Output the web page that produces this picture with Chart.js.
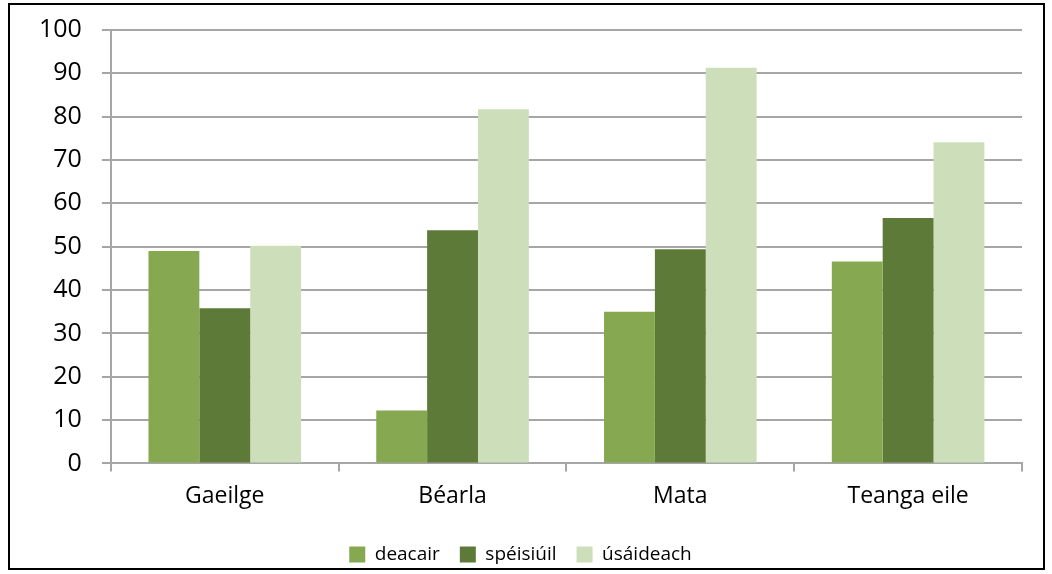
<!DOCTYPE html>
<html>
<head>
<meta charset="utf-8">
<script src="https://cdn.jsdelivr.net/npm/chart.js@4"></script>
<style>
  html, body { margin: 0; padding: 0; background: #fff; }
  #frame {
    position: absolute; left: 8px; top: 3px;
    width: 1037px; height: 567px;
    border: 2px solid #000; box-sizing: border-box;
    overflow: hidden;
  }
  #chart { display: block; margin-top: -10px; }
</style>
</head>
<body>
<div id="frame"><canvas id="chart" width="1033" height="573"></canvas></div>
<script>
// Subjects and survey responses (%)
const subjects = ['Gaeilge', 'Béarla', 'Mata', 'Teanga eile'];
const seriesNames = ['deacair', 'spéisiúil', 'úsáideach'];
const deacair = [49.0, 12.2, 35.0, 46.6];
const speisiuil = [35.8, 53.8, 49.4, 56.6];
const usaideach = [50.2, 81.7, 91.3, 74.1];
const yTicks = [0, 10, 20, 30, 40, 50, 60, 70, 80, 90, 100];

const colours = ['#86a850', '#5e7a38', '#cddfba'];
const gridColour = '#a6a6a6';

const ctx = document.getElementById('chart').getContext('2d');

new Chart(ctx, {
    type: 'bar',
    data: {
        labels: subjects,
        datasets: [deacair, speisiuil, usaideach].map((values, i) => ({
            label: seriesNames[i],
            data: values,
            backgroundColor: colours[i],
            borderWidth: 0,
            categoryPercentage: 0.67,
            barPercentage: 1.0
        }))
    },
    options: {
        responsive: false,
        animation: false,
        layout: {
            padding: { left: 9, right: 21, top: 0, bottom: -6 }
        },
        plugins: {
            legend: {
                position: 'bottom',
                labels: {
                    boxWidth: 16,
                    boxHeight: 16,
                    padding: 20,
                    color: '#000',
                    font: { family: 'Open Sans', size: 19 }
                }
            },
            tooltip: { enabled: false }
        },
        scales: {
            x: {
                afterFit: axis => { axis.height += 4; },
                grid: {
                    offset: true,
                    drawOnChartArea: false,
                    drawTicks: true,
                    tickLength: 8,
                    color: gridColour,
                    lineWidth: 2
                },
                border: { color: gridColour, width: 2 },
                ticks: {
                    color: '#000',
                    padding: 11,
                    font: { family: 'Open Sans', size: 23 }
                }
            },
            y: {
                min: 0,
                max: 100,
                afterBuildTicks: axis => {
                    axis.ticks = yTicks.map(v => ({ value: v }));
                },
                grid: {
                    color: gridColour,
                    lineWidth: 2,
                    tickLength: 9
                },
                border: { color: gridColour, width: 2 },
                ticks: {
                    color: '#000',
                    padding: 20,
                    font: { family: 'Open Sans', size: 25 }
                }
            }
        }
    }
});
</script>
</body>
</html>
